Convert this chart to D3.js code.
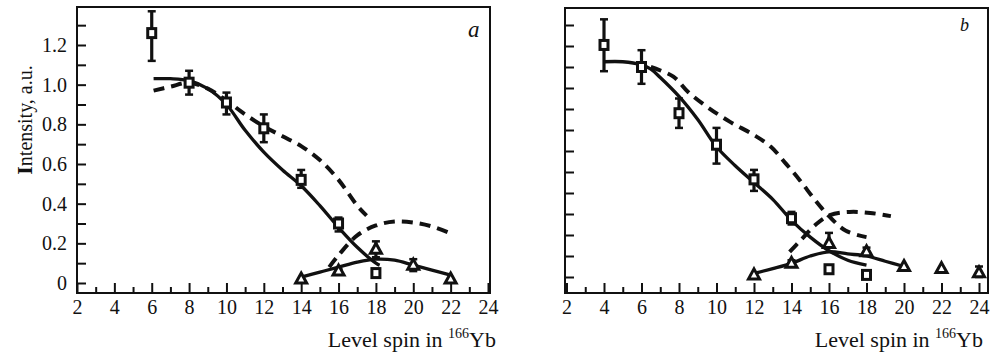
<!DOCTYPE html>
<html>
<head>
<meta charset="utf-8">
<script src="https://cdn.jsdelivr.net/npm/d3@7"></script>
<style>
  body { margin: 0; background: #fff; }
  svg { display: block; }
  text { font-family: "Liberation Serif", "Times New Roman", serif; fill: #111; }
</style>
</head>
<body>
<div id="chart"></div>
<script>
// spin values on the x axis
const xMajorTicks = [2, 4, 6, 8, 10, 12, 14, 16, 18, 20, 22, 24];
const xMinorTicks = [3, 5, 7, 9, 11, 13, 15, 17, 19, 21, 23];
const yTicksA = [0, 0.1, 0.2, 0.3, 0.4, 0.5, 0.6, 0.7, 0.8, 0.9, 1.0, 1.1, 1.2, 1.3];
const yTicksB = [0, 0.1, 0.2, 0.3, 0.4, 0.5, 0.6, 0.7, 0.8, 0.9, 1.0, 1.1, 1.2];
const yLabelsA = [0, 0.2, 0.4, 0.6, 0.8, 1.0, 1.2];

// experimental points: [spin, intensity, errLow, errHigh]
const squaresA = [
  [6, 1.26, 1.12, 1.37], [8, 1.01, 0.95, 1.07], [10, 0.91, 0.85, 0.96],
  [12, 0.78, 0.71, 0.85], [14, 0.52, 0.48, 0.57], [16, 0.30, 0.26, 0.33],
  [18, 0.05, 0.03, 0.07]
];
const trianglesA = [
  [14, 0.02, 0.01, 0.03], [16, 0.06, 0.05, 0.07], [18, 0.17, 0.13, 0.21],
  [20, 0.09, 0.06, 0.12], [22, 0.02, 0.01, 0.03]
];
const squaresB = [
  [4, 1.105, 0.98, 1.227], [6, 1.00, 0.92, 1.08], [8, 0.78, 0.71, 0.85],
  [10, 0.63, 0.54, 0.71], [12, 0.465, 0.41, 0.51], [14, 0.28, 0.25, 0.31],
  [16, 0.037, 0.037, 0.037], [18, 0.01, 0.01, 0.01]
];
const trianglesB = [
  [12, 0.01, 0.01, 0.01], [14, 0.065, 0.05, 0.08], [16, 0.16, 0.14, 0.21],
  [18, 0.12, 0.10, 0.14], [20, 0.05, 0.05, 0.05], [22, 0.04, 0.04, 0.04],
  [24, 0.02, 0.0, 0.05]
];

// calculated curves: [spin, intensity]
const solidA1 = [[6.1, 1.03], [7, 1.03], [8, 1.02], [9, 0.98], [10, 0.9], [11, 0.77], [12, 0.66], [13, 0.57], [14, 0.49], [15, 0.39], [16, 0.28], [17, 0.18], [18, 0.1], [18.2, 0.09]];
const solidA2 = [[14, 0.03], [15, 0.055], [16, 0.08], [17, 0.105], [18, 0.12], [19, 0.115], [20, 0.09], [21, 0.065], [22, 0.04]];
const dashedA1 = [[6.1, 0.97], [7, 0.99], [8, 1.01], [9, 0.98], [10, 0.92], [11, 0.85], [12, 0.79], [13, 0.74], [14, 0.69], [15, 0.62], [16, 0.52], [17, 0.39], [17.5, 0.34]];
const dashedA2 = [[15.5, 0.08], [16, 0.14], [17, 0.24], [18, 0.29], [19, 0.31], [20, 0.305], [21, 0.285], [22, 0.25]];

const solidB1 = [[4, 1.025], [5, 1.025], [6, 1.01], [6.5, 0.99], [7, 0.95], [8, 0.86], [9, 0.75], [10, 0.62], [11, 0.53], [12, 0.45], [13, 0.37], [14, 0.27], [15, 0.19], [16, 0.125], [17, 0.08], [18, 0.057]];
const solidB2 = [[12, 0.017], [13, 0.04], [14, 0.065], [15, 0.1], [16, 0.12], [17, 0.11], [18, 0.1], [19, 0.075], [20, 0.05]];
const dashedB1 = [[6.5, 1.0], [7.7, 0.954], [8.5, 0.88], [9.5, 0.81], [10.7, 0.74], [12, 0.676], [12.9, 0.62], [13.7, 0.54], [14.45, 0.46], [15.25, 0.367], [16, 0.29], [16.9, 0.22], [18, 0.19]];
const dashedB2 = [[13.9, 0.12], [14.5, 0.176], [15.3, 0.25], [16.05, 0.295], [17.1, 0.31], [18.2, 0.305], [19.3, 0.29]];

const width = 990, height = 356;

const svg = d3.select('#chart')
  .append('svg')
  .attr('width', width)
  .attr('height', height);

const line = d3.line().curve(d3.curveCatmullRom.alpha(0.5));

function drawPanel(p) {
  const x = d3.scaleLinear().domain([2, 24]).range(p.xRange);
  const y = d3.scaleLinear().domain([0, 1.2]).range(p.yRange);
  const g = svg.append('g');

  // frame
  g.append('rect')
    .attr('x', p.frame[0]).attr('y', p.frame[1])
    .attr('width', p.frame[2] - p.frame[0]).attr('height', p.frame[3] - p.frame[1])
    .attr('fill', 'none').attr('stroke', '#111').attr('stroke-width', 2);

  // x axis, major ticks with labels
  const xAxis = g.append('g')
    .attr('transform', `translate(0,${p.frame[3]})`)
    .call(d3.axisBottom(x).tickValues(xMajorTicks).tickSizeInner(-10).tickSizeOuter(0).tickPadding(7));
  xAxis.select('.domain').remove();
  xAxis.selectAll('line').attr('stroke', '#111').attr('stroke-width', 2);
  xAxis.selectAll('text').style('font-size', '20px');

  // x axis, minor ticks
  const xMinor = g.append('g')
    .attr('transform', `translate(0,${p.frame[3]})`)
    .call(d3.axisBottom(x).tickValues(xMinorTicks).tickSizeInner(-6).tickSizeOuter(0).tickFormat(''));
  xMinor.select('.domain').remove();
  xMinor.selectAll('line').attr('stroke', '#111').attr('stroke-width', 2);

  // y axis
  const yAxis = g.append('g')
    .attr('transform', `translate(${p.frame[0]},0)`)
    .call(d3.axisLeft(y).tickValues(p.yTicks).tickSizeInner(-9).tickSizeOuter(0).tickPadding(10)
      .tickFormat(d => {
        if (!p.yLabels) return '';
        const hit = p.yLabels.find(v => Math.abs(v - d) < 1e-6);
        if (hit === undefined) return '';
        return hit === 0 ? '0' : d3.format('.1f')(hit);
      }));
  yAxis.select('.domain').remove();
  yAxis.selectAll('line').attr('stroke', '#111').attr('stroke-width', 2);
  yAxis.selectAll('text').style('font-size', '20px');

  // curves
  const curves = [
    [p.solid1, null], [p.solid2, null], [p.dashed1, '11,7'], [p.dashed2, '11,7']
  ];
  curves.forEach(([pts, dash]) => {
    g.append('path')
      .datum(pts)
      .attr('d', line.x(d => x(d[0])).y(d => y(d[1])))
      .attr('fill', 'none')
      .attr('stroke', '#111')
      .attr('stroke-width', dash ? 4 : 3.3)
      .attr('stroke-dasharray', dash);
  });

  // error bars
  const allPts = p.squares.concat(p.triangles);
  g.selectAll('line.err')
    .data(allPts.filter(d => d[3] - d[2] > 0.02))
    .enter()
    .append('line')
    .attr('x1', d => x(d[0])).attr('x2', d => x(d[0]))
    .attr('y1', d => y(d[2])).attr('y2', d => y(d[3]))
    .attr('stroke', '#111').attr('stroke-width', 3.2);
  ['lo', 'hi'].forEach((k, i) => {
    g.selectAll('line.cap' + k)
      .data(allPts.filter(d => d[3] - d[2] > 0.02))
      .enter()
      .append('line')
      .attr('x1', d => x(d[0]) - 4).attr('x2', d => x(d[0]) + 4)
      .attr('y1', d => y(d[2 + i])).attr('y2', d => y(d[2 + i]))
      .attr('stroke', '#111').attr('stroke-width', 2.5);
  });

  // square markers
  g.selectAll('rect.sq')
    .data(p.squares)
    .enter()
    .append('rect')
    .attr('x', d => x(d[0]) - 4)
    .attr('y', d => y(d[1]) - 4.5)
    .attr('width', 8).attr('height', 9)
    .attr('fill', '#fff').attr('stroke', '#111').attr('stroke-width', 3);

  // triangle markers
  g.selectAll('path.tri')
    .data(p.triangles)
    .enter()
    .append('path')
    .attr('d', d => {
      const cx = x(d[0]), cy = y(d[1]);
      return `M${cx},${cy - 6}L${cx + 5.5},${cy + 4}L${cx - 5.5},${cy + 4}Z`;
    })
    .attr('fill', '#fff').attr('stroke', '#111').attr('stroke-width', 3);

  // panel letter
  g.append('text')
    .attr('x', p.letterPos[0]).attr('y', p.letterPos[1])
    .style('font-size', p.letterSize).attr('font-style', 'italic')
    .text(p.letter);

  // x axis title
  const t = g.append('text')
    .attr('x', p.frame[2] + p.titleDx).attr('y', 347)
    .attr('text-anchor', 'end')
    .style('font-size', '22px');
  t.append('tspan').text('Level spin in ');
  t.append('tspan').style('font-size', '14px').attr('dy', -9).text('166');
  t.append('tspan').attr('dy', 9).text('Yb');
}

drawPanel({
  xRange: [77, 488], yRange: [283, 45], frame: [77, 7, 490, 293],
  yTicks: yTicksA, yLabels: yLabelsA,
  squares: squaresA, triangles: trianglesA,
  solid1: solidA1, solid2: solidA2, dashed1: dashedA1, dashed2: dashedA2,
  letter: 'a', letterPos: [468, 36.5], letterSize: '23px', titleDx: 6
});

drawPanel({
  xRange: [566.5, 979], yRange: [277, 25], frame: [565, 8, 988, 293],
  yTicks: yTicksB, yLabels: null,
  squares: squaresB, triangles: trianglesB,
  solid1: solidB1, solid2: solidB2, dashed1: dashedB1, dashed2: dashedB2,
  letter: 'b', letterPos: [960, 30.5], letterSize: '18px', titleDx: -5
});

// y axis title
const yTitle = svg.append('text')
  .attr('transform', 'translate(32,120) rotate(-90)')
  .attr('text-anchor', 'middle')
  .style('font-size', '20px');
yTitle.append('tspan').attr('font-weight', 'bold').style('font-size', '22px').text('I');
yTitle.append('tspan').text('ntensity, a.u.');
</script>
</body>
</html>
